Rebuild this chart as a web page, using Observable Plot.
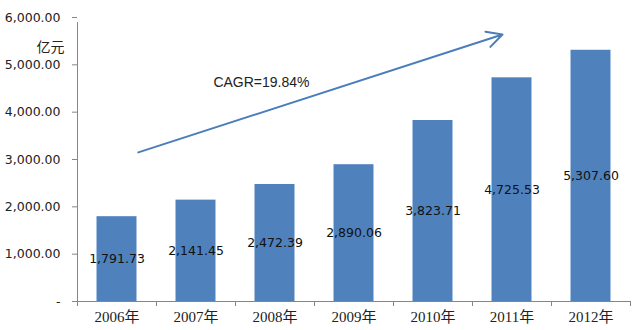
<!DOCTYPE html>
<html>
<head>
<meta charset="utf-8">
<script src="https://cdn.jsdelivr.net/npm/d3@7"></script>
<script src="https://cdn.jsdelivr.net/npm/@observablehq/plot@0.6"></script>
<style>
  html, body { margin: 0; padding: 0; background: #fff; }
  #chart { width: 633px; height: 330px; overflow: hidden; }
</style>
</head>
<body>
<div id="chart"></div>
<script>
const years = [2006, 2007, 2008, 2009, 2010, 2011, 2012];
const values = [1791.73, 2141.45, 2472.39, 2890.06, 3823.71, 4725.53, 5307.60];
const yTicks = [0, 1000, 2000, 3000, 4000, 5000, 6000];
const unitLabel = "亿元";
const cagrLabel = "CAGR=19.84%";
// trend arrow endpoints (year, value units)
const trendFrom = [2006.27, 3150];
const trendTo = [2010.88, 5640];
const cagrAt = [2007.22, 4627];

const data = years.map((year, i) => ({year, value: values[i]}));
const fmt = d3.format(",.2f");
const half = 0.253;
const axisColor = "#868686";
const boundaries = years.map(y => y - 0.5).concat([years[years.length - 1] + 0.5]);

const chart = Plot.plot({
  width: 633,
  height: 330,
  marginLeft: 77,
  marginRight: 3,
  marginTop: 17,
  marginBottom: 29,
  style: {fontFamily: "DejaVu Sans", fontSize: "12.5px", color: "#222", background: "white", overflow: "visible"},
  x: {type: "linear", domain: [years[0] - 0.5, years[years.length - 1] + 0.5], axis: null},
  y: {domain: [0, 6000], axis: null},
  marks: [
    Plot.rectY(data, {x1: d => d.year - half, x2: d => d.year + half, y: "value", fill: "#4f81bd"}),
    Plot.text(data, {x: "year", y: d => d.value / 2, text: d => fmt(d.value), fill: "#111", fontSize: 12.5}),
    Plot.ruleX([years[0] - 0.5], {y1: 0, y2: 6000, stroke: axisColor, insetBottom: -5}),
    Plot.ruleY([0], {x1: years[0] - 0.5, x2: years[years.length - 1] + 0.5, stroke: axisColor}),
    Plot.axisY({ticks: yTicks, tickSize: 5, tickPadding: 12, tickFormat: d => d === 0 ? "-" : fmt(d), stroke: axisColor, color: "#222", fontSize: 12.5}),
    Plot.axisX({ticks: boundaries, tickSize: 5, tickFormat: () => "", stroke: axisColor}),
    Plot.axisX({ticks: years, tickSize: 0, tickPadding: 10, tickFormat: d => d + "年", color: "#222", fontSize: 15, fontFamily: "Liberation Serif, Noto Sans CJK SC, serif"}),
    Plot.text([unitLabel], {frameAnchor: "top-left", dx: -41, dy: 25, fontSize: 14, fill: "#222", fontFamily: "Noto Sans CJK SC"}),
    Plot.arrow([{x1: trendFrom[0], y1: trendFrom[1], x2: trendTo[0], y2: trendTo[1]}], {x1: "x1", y1: "y1", x2: "x2", y2: "y2", stroke: "#4a7ebb", strokeWidth: 2, headLength: 13, headAngle: 55}),
    Plot.text([cagrLabel], {x: cagrAt[0], y: cagrAt[1], textAnchor: "start", fontSize: 14, fill: "#222", fontFamily: "Liberation Sans"})
  ]
});
document.getElementById("chart").appendChild(chart);
</script>
</body>
</html>
